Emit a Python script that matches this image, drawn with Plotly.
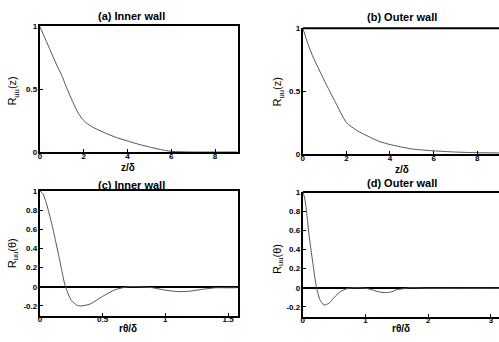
import plotly.graph_objects as go

# ---- data ----
xa = [0, 0.25, 0.5, 0.75, 1, 1.25, 1.5, 1.75, 2, 2.25, 2.5, 3, 3.5, 4, 4.5, 5, 5.5, 6, 7, 8, 9]
ya = [1, 0.9, 0.8, 0.7, 0.61, 0.5, 0.4, 0.31, 0.25, 0.215, 0.19, 0.15, 0.115, 0.088, 0.062, 0.04, 0.02, 0.005, 0, 0, 0]

xb = [0, 0.25, 0.5, 0.75, 1, 1.5, 2, 2.5, 3, 3.5, 4, 5, 6, 7, 8, 9]
yb = [1, 0.87, 0.76, 0.67, 0.58, 0.41, 0.25, 0.185, 0.14, 0.1, 0.075, 0.04, 0.025, 0.015, 0.01, 0.008]

xc = [0, 0.025, 0.05, 0.075, 0.1, 0.125, 0.15, 0.175, 0.2, 0.25, 0.3, 0.33, 0.4, 0.5, 0.6, 0.7, 0.8,
      0.9, 1.0, 1.1, 1.2, 1.3, 1.4, 1.5, 1.57]
yc = [1, 0.97, 0.88, 0.76, 0.63, 0.48, 0.33, 0.17, 0.02, -0.14, -0.195, -0.2, -0.18, -0.1, -0.03, 0, 0,
      -0.01, -0.035, -0.05, -0.045, -0.025, -0.01, -0.01, -0.01]

xd = [0, 0.025, 0.05, 0.075, 0.1, 0.13, 0.16, 0.19, 0.22, 0.27, 0.34, 0.42, 0.5, 0.6, 0.7, 0.8, 1.0,
      1.1, 1.2, 1.3, 1.4, 1.5, 1.6, 1.7, 2, 2.5, 3, 3.14]
yd = [1, 0.95, 0.85, 0.7, 0.55, 0.4, 0.26, 0.12, 0.0, -0.12, -0.18, -0.16, -0.1, -0.04, -0.01, 0, -0.005,
      -0.02, -0.04, -0.05, -0.045, -0.02, -0.01, 0, -0.005, -0.005, -0.005, -0.005]

titles = ["(a) Inner wall", "(b) Outer wall", "(c) Inner wall", "(d) Outer wall"]
ytitles = ["R<sub>uu</sub>(z)", "R<sub>uu</sub>(z)", "R<sub>uu</sub>(θ)", "R<sub>uu</sub>(θ)"]
xtitles = ["z/δ", "z/δ", "rθ/δ", "rθ/δ"]

W, H = 499, 342
FONT = "Liberation Sans"

fig = go.Figure()
line_style = dict(color="#555555", width=1, shape="spline", smoothing=0.6)
fig.add_trace(go.Scatter(x=xa, y=ya, mode="lines", line=line_style, xaxis="x", yaxis="y"))
fig.add_trace(go.Scatter(x=xb, y=yb, mode="lines", line=line_style, xaxis="x2", yaxis="y2"))
fig.add_trace(go.Scatter(x=xc, y=yc, mode="lines", line=line_style, xaxis="x3", yaxis="y3"))
fig.add_trace(go.Scatter(x=xd, y=yd, mode="lines", line=line_style, xaxis="x4", yaxis="y4"))


def px_x(p):
    return p / W


def px_y(p):
    return 1 - p / H


tickfont = dict(family=FONT, size=8, color="black", weight="bold")


def xax(dom, rng, tickvals, anchor, mirror=True):
    return dict(domain=dom, range=rng, tickvals=tickvals, anchor=anchor,
                showline=True, linecolor="black", linewidth=2, mirror=mirror,
                ticks="inside", ticklen=3, tickcolor="black", showgrid=False,
                zeroline=False, tickfont=tickfont, ticklabelstandoff=-5)


def yax(dom, rng, tickvals, ticktext, anchor, mirror, zl=False):
    return dict(domain=dom, range=rng, tickvals=tickvals, ticktext=ticktext, anchor=anchor,
                showline=True, linecolor="black", linewidth=2, mirror=mirror,
                ticks="inside", ticklen=3, tickcolor="black", showgrid=False,
                zeroline=zl, zerolinecolor="black", zerolinewidth=2, tickfont=tickfont,
                ticklabelstandoff=-1)


dom_left = [px_x(38), px_x(237)]
dom_right = [px_x(302), 1.0]

ytv_top = [0, 0.5, 1]
ytt_top = ["0", "0.5", "1"]
ytv_bot = [-0.2, 0, 0.2, 0.4, 0.6, 0.8, 1]
ytt_bot = ["-0.2", "0", "0.2", "0.4", "0.6", "0.8", "1"]

fig.update_layout(
    width=W, height=H, margin=dict(l=0, r=0, t=0, b=0),
    paper_bgcolor="white", plot_bgcolor="white", showlegend=False,
    xaxis=xax(dom_left, [0, 9.05], [0, 2, 4, 6, 8], "y"),
    yaxis=yax([px_y(152), px_y(23)], [0, 1], ytv_top, ytt_top, "x", True),
    xaxis2=xax(dom_right, [0, 9.0], [0, 2, 4, 6, 8], "y2", False),
    yaxis2=yax([px_y(154), px_y(25)], [0, 1], ytv_top, ytt_top, "x2", False),
    xaxis3=xax(dom_left, [0, 1.58], [0, 0.5, 1, 1.5], "y3"),
    yaxis3=yax([px_y(320), px_y(192)], [-0.3, 1], ytv_bot, ytt_bot, "x3", True, True),
    xaxis4=xax(dom_right, [0, 3.13], [0, 1, 2, 3], "y4", False),
    yaxis4=yax([px_y(321), px_y(193)], [-0.3, 1], ytv_bot, ytt_bot, "x4", False, True),
)

# top frame lines for the right-hand panels (their right edge is cut off)
for xr, yr in [("x2", "y2"), ("x4", "y4")]:
    fig.add_shape(type="line", xref=xr + " domain", yref=yr + " domain",
                  x0=0, x1=1, y0=1, y1=1, line=dict(color="black", width=2))

# annotations (pixel positions -> paper)
title_pos = [(130, 12), (402, 13), (130, 186), (402, 184)]
ytitle_pos = [(11, 89), (277, 90), (11, 256), (277, 262)]
xtitle_pos = [(127, 168), (402, 170), (127, 333), (401, 333)]
for i in range(4):
    tx, ty = title_pos[i]
    fig.add_annotation(x=px_x(tx), y=px_y(ty), xref="paper", yref="paper",
                       xanchor="center", yanchor="middle",
                       text="<b>" + titles[i] + "</b>", showarrow=False,
                       font=dict(family=FONT, size=11, color="black"))
    yx, yy = ytitle_pos[i]
    fig.add_annotation(x=px_x(yx), y=px_y(yy), xref="paper", yref="paper",
                       xanchor="center", yanchor="middle",
                       text=ytitles[i], showarrow=False, textangle=-90,
                       font=dict(family=FONT, size=11, color="black"))
    xx, xy = xtitle_pos[i]
    fig.add_annotation(x=px_x(xx), y=px_y(xy), xref="paper", yref="paper",
                       xanchor="center", yanchor="middle",
                       text="<b>" + xtitles[i] + "</b>", showarrow=False,
                       font=dict(family=FONT, size=10, color="black"))

fig.write_html("out.html")
